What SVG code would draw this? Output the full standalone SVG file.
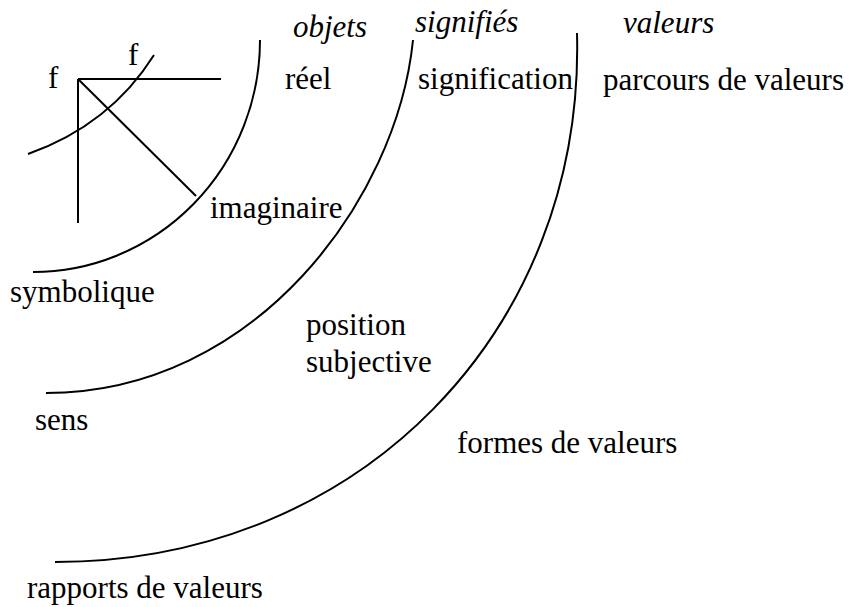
<svg xmlns="http://www.w3.org/2000/svg" width="852" height="607" viewBox="0 0 852 607">
<style>
.ln{fill:none;stroke:#000;stroke-width:2}
.it{font-style:italic}
</style>
<rect width="852" height="607" fill="#fff"/>
<g id="arcs">
<path class="ln" d="M260,40 A227,232 0 0 1 33,272"/>
<path class="ln" d="M413,40 C397,200 255,393 46,393"/>
<path class="ln" d="M577,33 C585,330 360,562 55,562"/>
<path class="ln" d="M28,154 Q110,125 154,55"/>
</g>
<g id="lines">
<line class="ln" x1="78" y1="79" x2="221" y2="79"/>
<line class="ln" x1="78" y1="79" x2="78" y2="223"/>
<line class="ln" x1="78" y1="79" x2="196" y2="196"/>
</g>
<g id="labels" font-family="'Liberation Serif', 'Times New Roman', serif" font-size="31" fill="#000">
<text x="48" y="88">f</text>
<text x="128" y="65">f</text>
<text class="it" x="293" y="37">objets</text>
<text class="it" x="415" y="32">signifiés</text>
<text class="it" x="623" y="33">valeurs</text>
<text x="285" y="89">réel</text>
<text x="418" y="89">signification</text>
<text x="603" y="90">parcours de valeurs</text>
<text x="210" y="218">imaginaire</text>
<text x="10" y="302">symbolique</text>
<text x="306" y="335">position</text>
<text x="306" y="372">subjective</text>
<text x="35" y="430">sens</text>
<text x="457" y="453">formes de valeurs</text>
<text x="27" y="598">rapports de valeurs</text>
</g>
</svg>
